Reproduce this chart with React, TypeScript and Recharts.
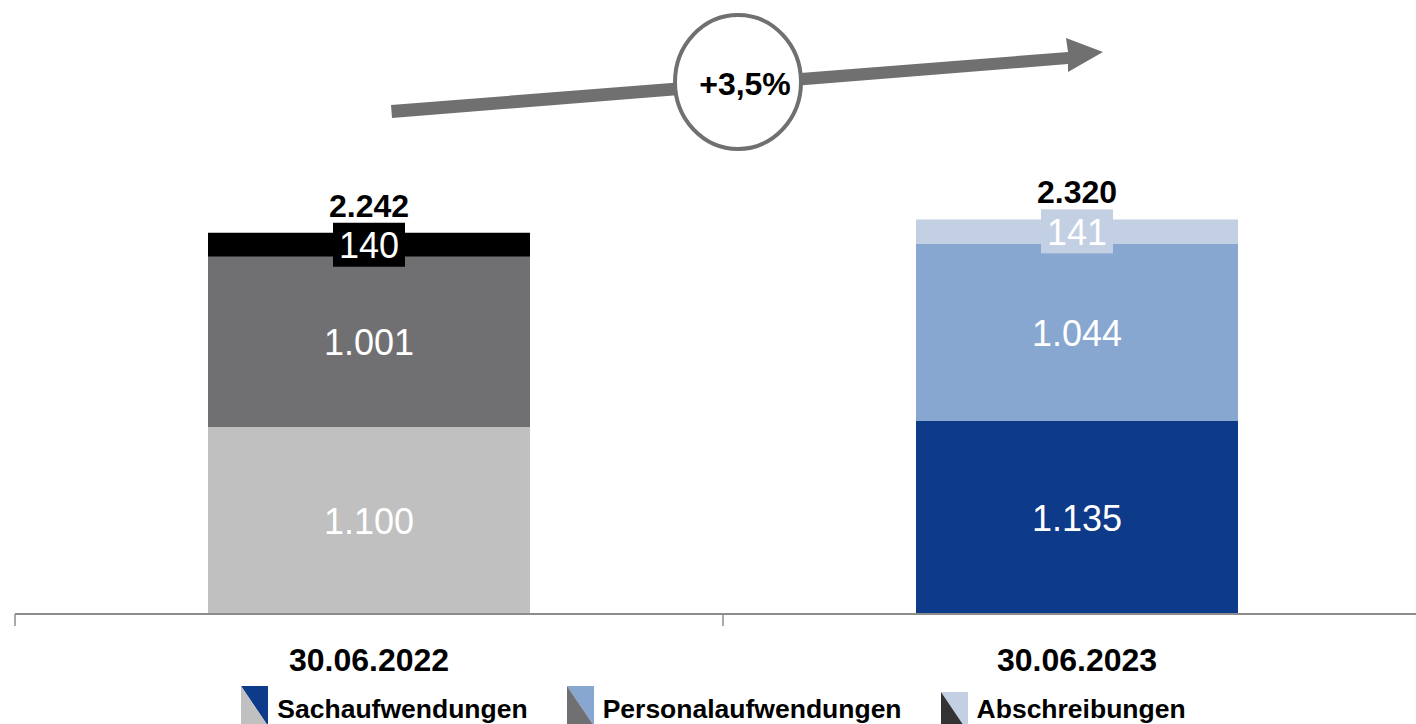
import { Bar, BarChart, Cell, LabelList, Legend, XAxis, YAxis } from "recharts";

const categories = ["30.06.2022", "30.06.2023"];
const sachaufwendungen = [1100, 1135];
const personalaufwendungen = [1001, 1044];
const abschreibungen = [140, 141];
const totals = [2242, 2320];

// colours per year: [2022, 2023]
const sachColors = ["#c0c0c0", "#0e3a8a"];
const personalColors = ["#707073", "#87a7d0"];
const abschrColors = ["#000000", "#c3cfe2"];

const legendItems = [
  { name: "Sachaufwendungen", colors: ["#c0c0c0", "#0e3a8a"] },
  { name: "Personalaufwendungen", colors: ["#707073", "#87a7d0"] },
  { name: "Abschreibungen", colors: ["#333333", "#c3cfe2"] },
];

const data = categories.map((c, i) => ({
  category: c,
  sach: sachaufwendungen[i],
  personal: personalaufwendungen[i],
  abschr: abschreibungen[i],
  total: totals[i],
}));

const FONT = '"Liberation Sans", Arial, sans-serif';
const CHART_W = 1431;
const MARGIN_LEFT = 15;
const HALF_BAND = (CHART_W - MARGIN_LEFT) / categories.length / 2;

const fmt = (n: number) => String(n).replace(/\B(?=(\d{3})+(?!\d))/g, ".");

function segmentLabel(colors: string[]) {
  return (props: any) => {
    const { x, y, width, height, value, index } = props;
    const text = fmt(Number(value));
    const cx = x + width / 2;
    const cy = y + height / 2;
    const boxW = text.length * 20 + 12;
    return (
      <g>
        <rect x={cx - boxW / 2} y={cy - 22} width={boxW} height={44} fill={colors[index]} />
        <text x={cx} y={cy} dy={1} textAnchor="middle" dominantBaseline="central" fill="#fff" fontSize={36} fontFamily={FONT}>
          {text}
        </text>
      </g>
    );
  };
}

const totalLabel = (props: any) => {
  const { x, y, width, index } = props;
  return (
    <text x={x + width / 2} y={y - 16} textAnchor="middle" fill="#000" fontSize={32} fontWeight="bold" fontFamily={FONT}>
      {fmt(totals[index])}
    </text>
  );
};

const CategoryTick = (props: any) => {
  const { x, y, payload } = props;
  return (
    <g>
      <line x1={x - HALF_BAND} x2={x - HALF_BAND} y1={y - 8} y2={y + 4} stroke="#8c8c8c" strokeWidth={1.5} />
      <text x={x} y={y + 49} textAnchor="middle" fill="#000" fontSize={32} fontWeight="bold" fontFamily={FONT}>
        {payload.value}
      </text>
    </g>
  );
};

const LegendContent = () => (
  <div
    style={{
      display: "flex",
      justifyContent: "center",
      alignItems: "flex-start",
      height: 34,
      width: CHART_W,
      marginLeft: -MARGIN_LEFT - 2,
      fontFamily: FONT,
      fontWeight: "bold",
      fontSize: 26.5,
      color: "#000",
    }}
  >
    {legendItems.map((item, i) => (
      <div key={item.name} style={{ display: "flex", alignItems: "flex-start", marginLeft: i === 0 ? 0 : 39 }}>
        <svg width={27} height={40} style={{ marginRight: 9, marginTop: i === 2 ? 2 : -4, flexShrink: 0 }}>
          <polygon points="0,0 27,0 27,40" fill={item.colors[1]} />
          <polygon points="0,0 27,40 0,40" fill={item.colors[0]} />
        </svg>
        <span style={{ lineHeight: "34px", marginTop: 2, whiteSpace: "nowrap" }}>{item.name}</span>
      </div>
    ))}
  </div>
);

export default function App() {
  return (
    <div style={{ position: "absolute", left: 0, top: 0, width: 1416, height: 724, overflow: "hidden", background: "#fff" }}>
      <BarChart width={CHART_W} height={724} data={data} margin={{ top: 0, right: 0, left: MARGIN_LEFT, bottom: 0 }}>
        <XAxis
          dataKey="category"
          height={76}
          tickLine={false}
          axisLine={{ stroke: "#8c8c8c", strokeWidth: 2 }}
          tick={<CategoryTick />}
          interval={0}
        />
        <YAxis hide domain={[0, 3610]} />
        <Legend verticalAlign="bottom" content={<LegendContent />} wrapperStyle={{ height: 34 }} />
        <Bar dataKey="sach" stackId="a" barSize={322} isAnimationActive={false}>
          {data.map((_, i) => (
            <Cell key={i} fill={sachColors[i]} />
          ))}
          <LabelList dataKey="sach" content={segmentLabel(sachColors)} />
        </Bar>
        <Bar dataKey="personal" stackId="a" barSize={322} isAnimationActive={false}>
          {data.map((_, i) => (
            <Cell key={i} fill={personalColors[i]} />
          ))}
          <LabelList dataKey="personal" content={segmentLabel(personalColors)} />
        </Bar>
        <Bar dataKey="abschr" stackId="a" barSize={322} isAnimationActive={false}>
          {data.map((_, i) => (
            <Cell key={i} fill={abschrColors[i]} />
          ))}
          <LabelList dataKey="abschr" content={segmentLabel(abschrColors)} />
          <LabelList dataKey="total" content={totalLabel} />
        </Bar>
      </BarChart>
      {/* growth arrow annotation */}
      <svg width={1416} height={170} style={{ position: "absolute", left: 0, top: 0, pointerEvents: "none" }}>
        <polygon points="391,105 1068,52 1066,38 1103,52 1068,72 1068,64 392,118" fill="#707070" />
        <ellipse cx={738} cy={82} rx={63} ry={67} fill="#fff" stroke="#707070" strokeWidth={4} />
        <text x={745} y={84} textAnchor="middle" dominantBaseline="central" fontSize={32} fontWeight="bold" fontFamily={FONT} fill="#000">
          +3,5%
        </text>
      </svg>
    </div>
  );
}
